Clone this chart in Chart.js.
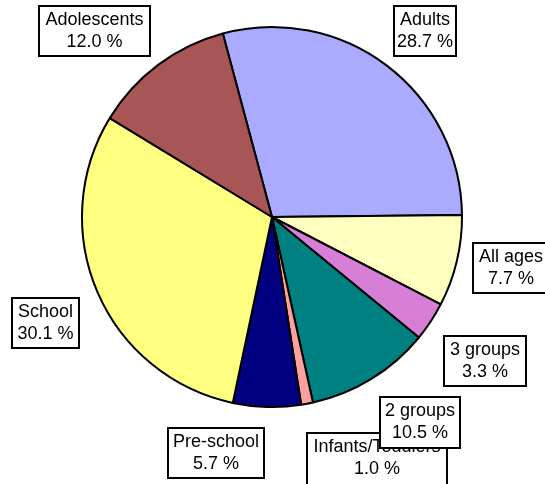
<!DOCTYPE html>
<html lang="en">
    <head>
        <meta charset="UTF-8">
        <style>
            body {
                margin: 0;
                background-color: #ffffff;
            }
            #chart-container {
                position: absolute;
                top: 0;
                left: 0;
            }
        </style>
        <title>Age groups</title>
    </head>
    <body>
        <div id="chart-container">
            <canvas id="myChart" width="545" height="484"></canvas>
        </div>
        <script src="https://cdn.jsdelivr.net/npm/chart.js"></script>
        <script>
            //data of the chart
            let categories = ['Adults', 'All ages', '3 groups', '2 groups', 'Infants/Toddlers', 'Pre-school', 'School', 'Adolescents'];
            let shares = [28.7, 7.7, 3.3, 10.5, 1.0, 5.7, 30.1, 12.0];

            let sliceColors = ['#aaaaff', '#ffffc0', '#d77fd7', '#008080', '#ffa0a0', '#000080', '#ffff80', '#a85555'];

            //label boxes (left, top, width, height), drawn in this order
            let labelBoxes = [
                {i: 0, x: 394, y: 6, w: 62, h: 50},
                {i: 7, x: 39, y: 6, w: 111, h: 50},
                {i: 1, x: 473, y: 243, w: 76, h: 50},
                {i: 2, x: 444, y: 336, w: 82, h: 50},
                {i: 4, x: 307, y: 433, w: 140, h: 56},
                {i: 3, x: 380, y: 397, w: 80, h: 51},
                {i: 5, x: 168, y: 428, w: 96, h: 50},
                {i: 6, x: 12, y: 298, w: 67, h: 50}
            ];

            //plugin for the boxed labels
            const boxLabels = {
                id: 'boxLabels',
                afterDraw(chart) {
                    const ctx = chart.ctx;
                    ctx.save();
                    ctx.font = '18px "Liberation Sans", Arial, sans-serif';
                    ctx.textAlign = 'center';
                    ctx.textBaseline = 'middle';
                    labelBoxes.forEach(b => {
                        ctx.fillStyle = '#ffffff';
                        ctx.fillRect(b.x, b.y, b.w, b.h);
                        ctx.lineWidth = 2;
                        ctx.strokeStyle = '#000000';
                        ctx.strokeRect(b.x, b.y, b.w, b.h);
                        ctx.fillStyle = '#000000';
                        const cx = b.x + b.w / 2;
                        ctx.fillText(categories[b.i], cx, b.y + 14);
                        ctx.fillText(shares[b.i].toFixed(1) + ' %', cx, b.y + 36);
                    });
                    ctx.restore();
                }
            };

            const data = {
                labels: categories,
                datasets: [{
                    data: shares,
                    backgroundColor: sliceColors,
                    borderColor: '#000000',
                    borderWidth: 2
                }]
            };

            const config = {
                type: 'pie',
                data,
                options: {
                    responsive: false,
                    animation: false,
                    rotation: -15,
                    layout: {
                        padding: {left: 81, top: 26, right: 82, bottom: 76}
                    },
                    plugins: {
                        legend: {display: false},
                        tooltip: {enabled: false}
                    }
                },
                plugins: [boxLabels]
            };

            const myChart = new Chart(document.getElementById('myChart'), config);
        </script>
    </body>
</html>
